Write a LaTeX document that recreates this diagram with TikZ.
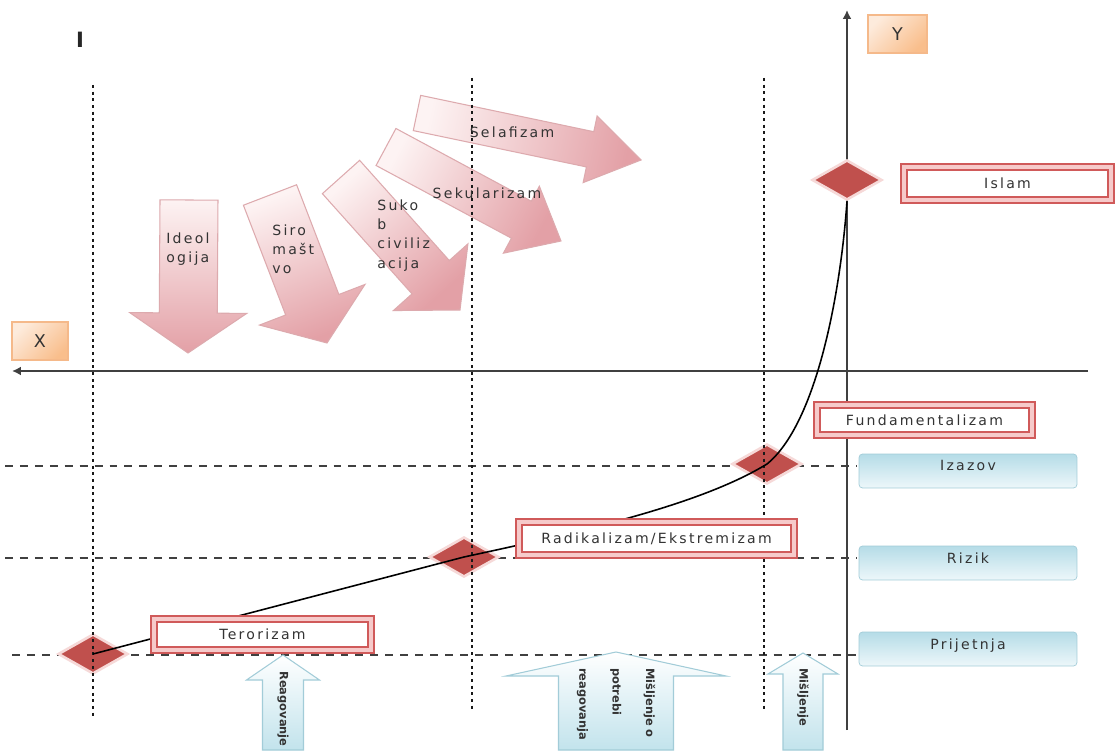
\documentclass[tikz,border=0pt]{standalone}
\usepackage{fontspec}
\setmainfont{DejaVu Sans}
\newfontfamily\lbl[LetterSpace=16]{DejaVu Sans}
\usetikzlibrary{shapes.geometric,calc,arrows.meta}
\definecolor{dmdred}{HTML}{C0504D}
\definecolor{dmdedge}{HTML}{F6D9D8}
\definecolor{redline}{HTML}{D05A5A}
\definecolor{redgap}{HTML}{F6CACA}
\definecolor{pinktail}{HTML}{FDF3F3}
\definecolor{pinkhead}{HTML}{E3A0A6}
\definecolor{pinkedge}{HTML}{DDAAAE}
\definecolor{bluetop}{HTML}{B5DCE7}
\definecolor{bluebot}{HTML}{EDF7FA}
\definecolor{blueedge}{HTML}{A2CCD8}
\definecolor{bluebody}{HTML}{C2E3EC}
\definecolor{orangelight}{HTML}{FDEBDC}
\definecolor{orangedark}{HTML}{F9BE8C}
\definecolor{orangeedge}{HTML}{F5B98A}
\definecolor{txt}{HTML}{333333}
\newcommand{\pinkarrow}[7]{%
  \coordinate (#1-t) at #2;
  \coordinate (#1-p) at #3;
  \coordinate (#1-h) at ($(#1-p)!#6!(#1-t)$);
  \shade[pinkarr, shading angle=#7]
    ($(#1-t)!#4!90:(#1-p)$) -- ($(#1-h)!#4!90:(#1-p)$) -- ($(#1-h)!#5!90:(#1-p)$)
    -- (#1-p) -- ($(#1-h)!#5!-90:(#1-p)$) -- ($(#1-h)!#4!-90:(#1-p)$)
    -- ($(#1-t)!#4!-90:(#1-p)$) -- cycle;}
\newcommand{\bluearrowshape}[7]{%
  \coordinate (#1) at (#2,#3);
  \shade[bluearr] ({#2-#6},#7) -- ({#2-#6},#4) -- ({#2-#5},#4) -- (#1)
    -- ({#2+#5},#4) -- ({#2+#6},#4) -- ({#2+#6},#7) -- cycle;}
\begin{document}
\begin{tikzpicture}[x=0.02cm,y=-0.02cm,
  pinkarr/.style={draw=pinkedge, line width=0.6pt, top color=pinktail, bottom color=pinkhead},
  bluearr/.style={draw=blueedge, line width=0.6pt, top color=white, bottom color=bluebody},
  redbox/.style={draw=redline, double=redgap, double distance=2.4pt, line width=0.9pt,
    fill=white, inner sep=0pt, text=txt, font=\lbl\fontsize{8}{10}\selectfont},
  bluebox/.style={rounded corners=2pt, draw=blueedge, top color=bluetop, bottom color=bluebot,
    minimum width=4.36cm, minimum height=0.68cm, text height=5pt, text depth=5pt,
    inner sep=0pt, text=txt, font=\lbl\fontsize{8}{10}\selectfont},
  orangebox/.style={draw=orangeedge, line width=0.6pt, top color=orangelight,
    bottom color=orangedark, shading angle=45, minimum height=0.76cm, inner sep=0pt,
    text=txt, font=\fontsize{10}{12}\selectfont},
  dmd/.style={diamond, fill=dmdred, draw=dmdedge, line width=1.5pt,
    minimum width=1.4cm, minimum height=0.8cm, inner sep=0pt},
  dotv/.style={line width=1.7pt, dash pattern=on 1.7pt off 2.1pt, black!90},
  dashh/.style={line width=0.8pt, dash pattern=on 4.5pt off 4pt, black!75},
  axisline/.style={line width=1pt, black!75, -{Latex[length=5pt,width=5pt]}},
  curveline/.style={line width=0.9pt, black},
  atext/.style={inner sep=0pt, text=txt, font=\lbl\fontsize{8}{11}\selectfont},
  vtext/.style={inner sep=0pt, rotate=-90, text=txt, font=\fontsize{6.5}{19}\selectfont\bfseries}
]
\useasboundingbox (0,0) rectangle (1117,753);
\fill[white] (0,0) rectangle (1117,753);

% pink arrows
\pinkarrow{aideo}{(189,200)}{(188,353)}{0.58cm}{1.17cm}{0.8cm}{0}
\pinkarrow{asiro}{(270,195)}{(327,343)}{0.57cm}{1.13cm}{0.82cm}{21}
\pinkarrow{asuko}{(341,177)}{(460,310)}{0.5cm}{1.0cm}{0.88cm}{42}
\pinkarrow{asek}{(386,147)}{(561,241)}{0.42cm}{0.76cm}{0.9cm}{62}
\pinkarrow{asel}{(417,113)}{(641,160)}{0.36cm}{0.68cm}{1.04cm}{78}

% dashed horizontal lines
\draw[dashh] (5,466) -- (857,466);
\draw[dashh] (5,558) -- (857,558);
\draw[dashh] (12,655) -- (857,655);

% axes
\coordinate (yb) at (847,730);
\coordinate (yt) at (847,10);
\coordinate (xr) at (1088,371);
\coordinate (xl) at (12,371);
\draw[axisline, line width=1.2pt] (yb) -- (yt);
\draw[axisline] (xr) -- (xl);

% diamonds
\node[dmd] (d1) at (847,180) {};
\node[dmd] (d2) at (767,464) {};
\node[dmd] (d3) at (464,557) {};
\node[dmd] (d4) at (93,654) {};

% dotted vertical lines
\draw[dotv] (93,85) -- (93,718);
\draw[dotv] (472,78) -- (472,710);
\draw[dotv] (764,78) -- (764,710);

% curve
\draw[curveline] (d4.center) -- (d3.center)
  .. controls (580,532) and (700,505) .. (d2.center)
  .. controls (815,425) and (840,300) .. (d1.south);

% red boxes
\node[redbox, minimum width=4.14cm, minimum height=0.66cm] (islam) at (1007.5,183.5) {Islam};
\node[redbox, minimum width=4.30cm, minimum height=0.60cm] (fund) at (924.5,420) {Fundamentalizam};
\node[redbox, minimum width=5.5cm, minimum height=0.66cm] (radi) at (656.5,538.5) {Radikalizam/Ekstremizam};
\node[redbox, minimum width=4.34cm, minimum height=0.62cm] (tero) at (262.5,634.5) {Terorizam};

% blue boxes
\node[bluebox] (izazov) at (968,471) {Izazov};
\node[bluebox] (rizik) at (968,563) {Rizik};
\node[bluebox] (prijetnja) at (968,649) {Prijetnja};

% axis labels
\node[orangebox, minimum width=1.12cm] (xlab) at (40,341) {X};
\node[orangebox, minimum width=1.18cm] (ylab) at (897.5,34) {Y};
\node[inner sep=0pt, font=\fontsize{12}{14}\selectfont\bfseries, text=black!85] (ilab) at (80,40) {I};

% up arrows
\bluearrowshape{ureag}{283}{655}{680}{36.5}{20.5}{750}
\bluearrowshape{umisp}{616}{652}{676}{110}{57.5}{750}
\bluearrowshape{umis}{803}{653}{674}{35}{20}{750}
\node[vtext, anchor=west] (treag) at (283,671) {Reagovanje};
\node[vtext, anchor=west, align=left] (tmisp) at (616,668) {Mišljenje o\\potrebi\\reagovanja};
\node[vtext, anchor=west] (tmis) at (803,668) {Mišljenje};

% pink arrow texts
\node[atext, anchor=north west, align=left] (tideo) at (166,232) {Ideol\\ogija};
\node[atext, anchor=north west, align=left] (tsiro) at (272,224) {Siro\\mašt\\vo};
\node[atext, anchor=north west, align=left] (tsuko) at (377,199) {Suko\\b\\civiliz\\acija};
\node[atext] (tsek) at (487,193) {Sekularizam};
\node[atext] (tsel) at (512,132) {Selafizam};
\end{tikzpicture}
\end{document}
